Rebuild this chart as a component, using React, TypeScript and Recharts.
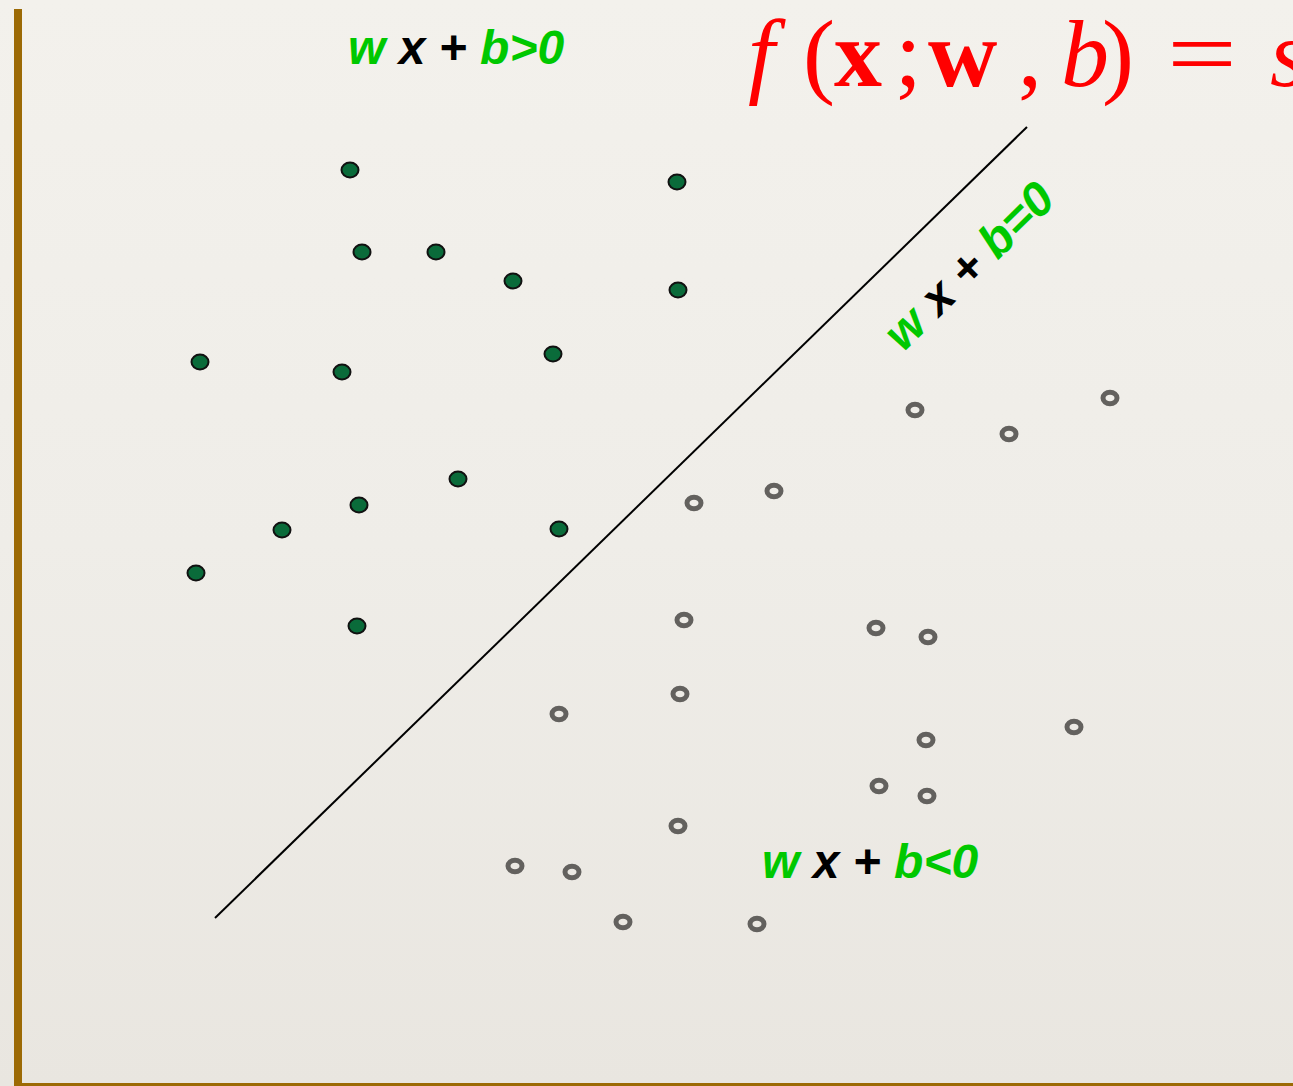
import React from "react";
import { ScatterChart, Scatter, XAxis, YAxis, ReferenceLine } from "recharts";

// sample positions in page-space units (x right, y down)
const positiveX = [350, 677, 362, 436, 513, 678, 200, 342, 553, 458, 359, 282, 559, 196, 357];
const positiveY = [170, 182, 252, 252, 281, 290, 362, 372, 354, 479, 505, 530, 529, 573, 626];

const negativeX = [915, 1009, 1110, 694, 774, 684, 876, 928, 680, 559, 926, 1074, 879, 927, 678, 515, 572, 623, 757];
const negativeY = [410, 434, 398, 503, 491, 620, 628, 637, 694, 714, 740, 727, 786, 796, 826, 866, 872, 922, 924];

// decision boundary end points
const boundaryX = [215, 1027];
const boundaryY = [918, 127];

const W = 1293;
const H = 1086;

const positiveData = positiveX.map((x, i) => ({ x, y: positiveY[i] }));
const negativeData = negativeX.map((x, i) => ({ x, y: negativeY[i] }));

const GREEN = "#00c800";

const FilledDot = (props: any) => {
  const { cx, cy } = props;
  return <ellipse cx={cx} cy={cy} rx={8.5} ry={7.5} fill="#0a6b3a" stroke="#111" strokeWidth={2} />;
};

const RingDot = (props: any) => {
  const { cx, cy } = props;
  return <ellipse cx={cx} cy={cy} rx={7} ry={5.8} fill="none" stroke="#63615e" strokeWidth={5} />;
};

const sans = "'Liberation Sans', Arial, sans-serif";
const serif = "'Liberation Serif', 'Times New Roman', serif";

function RuleLabel({ x, y, sign, rotate }: { x: number; y: number; sign: string; rotate?: number }) {
  return (
    <text
      x={x}
      y={y}
      fontFamily={sans}
      fontSize={48}
      fontWeight="bold"
      fontStyle="italic"
      transform={rotate ? `rotate(${rotate} ${x} ${y})` : undefined}
    >
      <tspan fill={GREEN}>w </tspan>
      <tspan fill="#000">x + </tspan>
      <tspan fill={GREEN}>b{sign}0</tspan>
    </text>
  );
}

export default function App() {
  return (
    <div
      style={{
        position: "absolute",
        left: 0,
        top: 0,
        width: W,
        height: H,
        overflow: "hidden",
        background: "linear-gradient(180deg, #f3f1ec 0%, #efede8 50%, #e9e6e0 100%)",
      }}
    >
      <div style={{ position: "absolute", left: 14, top: 9, width: 8, height: H - 9, background: "#9c6a05" }} />
      <div style={{ position: "absolute", left: 14, top: H - 3, width: W - 14, height: 3, background: "#9c6a05" }} />

      <div style={{ position: "absolute", left: 0, top: 0 }}>
        <ScatterChart width={W} height={H} margin={{ top: 0, right: 0, bottom: 0, left: 0 }}>
          <XAxis type="number" dataKey="x" domain={[0, W]} hide />
          <YAxis type="number" dataKey="y" domain={[0, H]} reversed hide />
          <ReferenceLine
            segment={[
              { x: boundaryX[0], y: boundaryY[0] },
              { x: boundaryX[1], y: boundaryY[1] },
            ]}
            stroke="#000"
            strokeWidth={2}
          />
          <Scatter data={positiveData} shape={FilledDot} isAnimationActive={false} />
          <Scatter data={negativeData} shape={RingDot} isAnimationActive={false} />
        </ScatterChart>
      </div>

      <svg width={W} height={H} style={{ position: "absolute", left: 0, top: 0, pointerEvents: "none" }}>
        <RuleLabel x={348} y={64} sign=">" />
        <RuleLabel x={762} y={878} sign="<" />
        <RuleLabel x={903} y={353} sign="=" rotate={-44.3} />

        {/* f(x; w, b) = s, clipped at the right edge */}
        <g fontFamily={serif} fontSize={96} fill="#ff0000">
          <text x={748} y={86} fontStyle="italic">f</text>
          <text x={803} y={86}>(</text>
          <text x={834} y={86} fontWeight="bold">x</text>
          <text x={895} y={86}>;</text>
          <text x={928} y={86} fontWeight="bold">w</text>
          <text x={1018} y={86}>,</text>
          <text x={1061} y={86} fontStyle="italic">b</text>
          <text x={1102} y={86}>)</text>
          <text x={1167} y={86} textLength={70} lengthAdjust="spacingAndGlyphs">=</text>
          <text x={1270} y={86} fontStyle="italic">s</text>
        </g>
      </svg>
    </div>
  );
}
